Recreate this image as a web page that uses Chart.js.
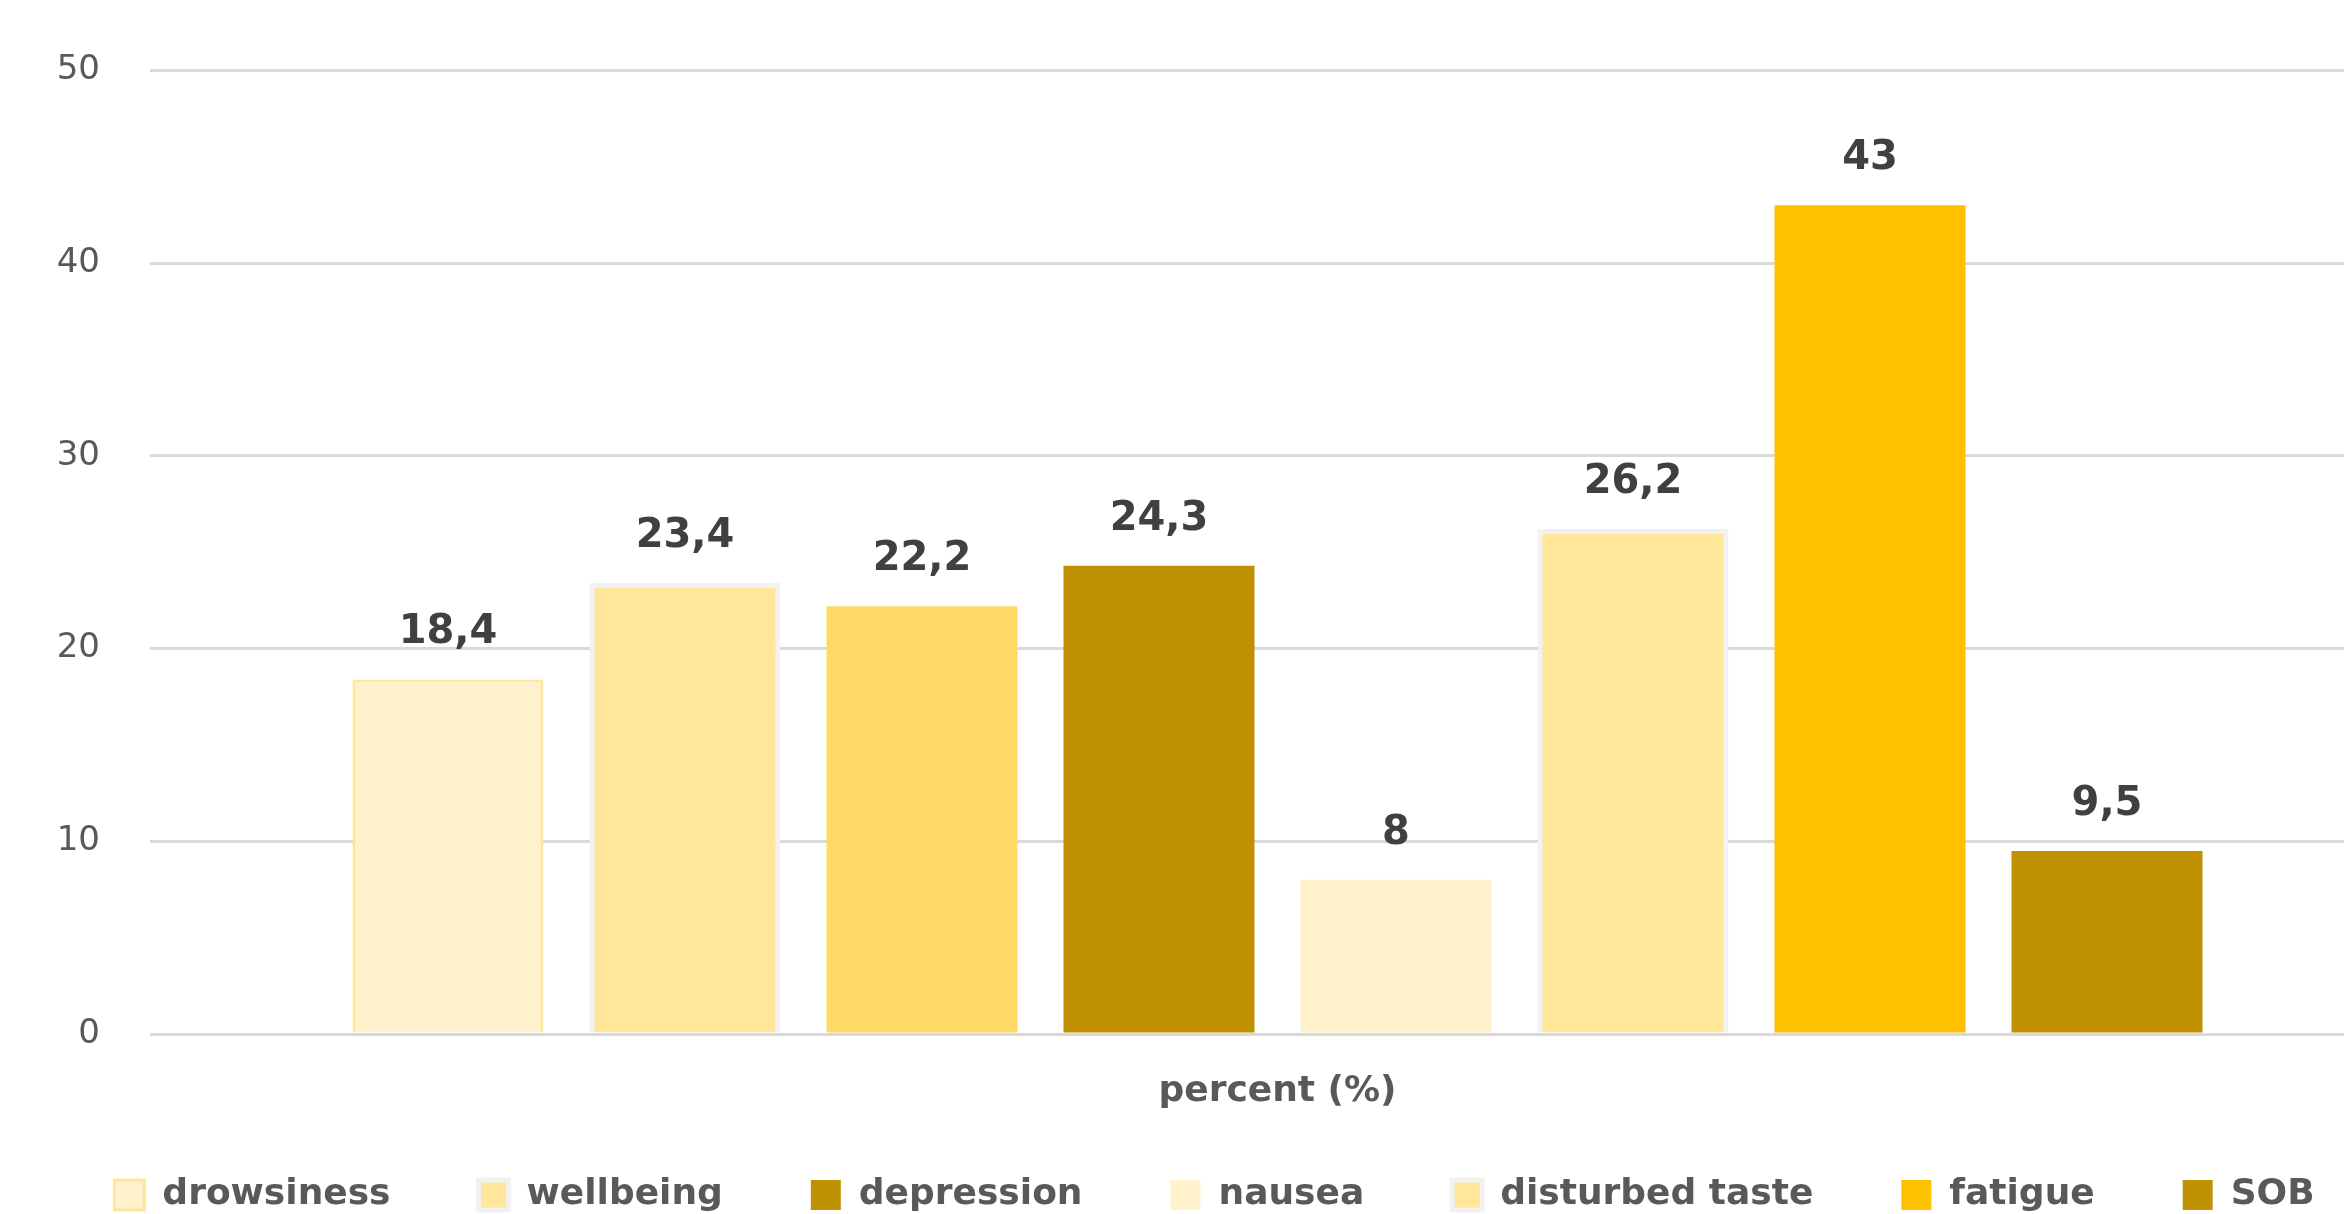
<!DOCTYPE html>
<html>
<head>
<meta charset="utf-8">
<script src="https://cdn.jsdelivr.net/npm/chart.js@4.4.1/dist/chart.umd.min.js"></script>
<style>
  html, body { margin: 0; padding: 0; background: #ffffff; overflow: hidden; width: 2344px; height: 1214px; }
  canvas { display: block; }
</style>
</head>
<body>
<canvas id="chart" width="2440" height="1240"></canvas>
<script>
// Symptom frequencies, one bar per symptom in a single category
const categories = ['percent (%)'];
const seriesNames = ['drowsiness', 'wellbeing', '', 'depression', 'nausea', 'disturbed taste', 'fatigue', 'SOB'];
const seriesValues = [18.4, 23.4, 22.2, 24.3, 8, 26.2, 43, 9.5];
const yTickValues = [0, 10, 20, 30, 40, 50];

// Bar styling
const fillColors   = ['#FFF2CC', '#FFE699', '#FFD966', '#BF9000', '#FFF2CC', '#FFE699', '#FFC000', '#BF9000'];
const strokeColors = ['#FFE699', '#F2F2F2', '#FFD966', '#BF9000', '#FFF2CC', '#F2F2F2', '#FFC000', '#BF9000'];
const strokeWidths = [3, 5, 0, 0, 0, 5, 0, 0];

const FONT = '"DejaVu Sans", Verdana, sans-serif';

// Writes each bar's value above it, with a decimal comma
const valueLabels = {
  id: 'valueLabels',
  afterDatasetsDraw(chart) {
    const ctx = chart.ctx;
    ctx.save();
    ctx.font = 'bold 40px ' + FONT;
    ctx.fillStyle = '#404040';
    ctx.textAlign = 'center';
    ctx.textBaseline = 'alphabetic';
    chart.data.datasets.forEach((ds, i) => {
      const meta = chart.getDatasetMeta(i);
      meta.data.forEach((bar, j) => {
        const text = String(ds.data[j]).replace('.', ',');
        ctx.fillText(text, bar.x, bar.y - 36);
      });
    });
    ctx.restore();
  }
};

const datasets = seriesNames.map((name, i) => ({
  label: name,
  data: [seriesValues[i]],
  backgroundColor: fillColors[i],
  borderColor: strokeColors[i],
  borderWidth: strokeWidths[i],
  borderSkipped: 'start',
  categoryPercentage: 0.8408,
  barPercentage: 0.806
}));

Chart.defaults.font.family = FONT;

new Chart(document.getElementById('chart'), {
  type: 'bar',
  data: { labels: categories, datasets },
  options: {
    responsive: false,
    animation: false,
    devicePixelRatio: 1,
    layout: { padding: { top: 66, right: 35, bottom: 17, left: 24 } },
    plugins: {
      tooltip: { enabled: false },
      legend: {
        position: 'bottom',
        labels: {
          filter: item => item.text !== '',
          boxWidth: 30,
          boxHeight: 30,
          padding: 88,
          color: '#595959',
          font: { size: 36, weight: 'bold', family: FONT }
        }
      }
    },
    scales: {
      x: {
        grid: { display: false, drawTicks: false },
        border: { display: false },
        ticks: { display: false },
        title: {
          display: true,
          text: categories[0],
          color: '#595959',
          padding: { top: 0, bottom: -24 },
          font: { size: 36, weight: 'bold', family: FONT }
        },
        afterFit(scale) { scale.height = 55; }
      },
      y: {
        min: 0,
        max: 50,
        afterBuildTicks(scale) { scale.ticks = yTickValues.map(v => ({ value: v })); },
        grid: { color: '#D9D9D9', lineWidth: 3, drawTicks: false },
        border: { display: false },
        ticks: {
          color: '#595959',
          padding: 50,
          font: { size: 34, family: FONT }
        },
        afterFit(scale) { scale.width = 126; }
      }
    }
  },
  plugins: [valueLabels]
});
</script>
</body>
</html>
